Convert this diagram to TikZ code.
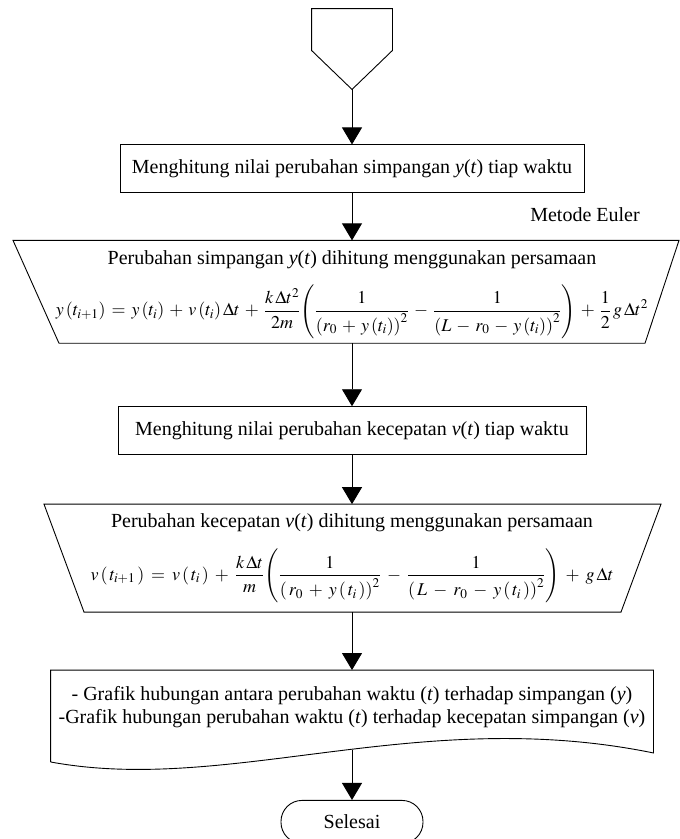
\documentclass[tikz,border=0pt]{standalone}
\usepackage{mathptmx}
\usepackage{fontspec}
\setmainfont{Liberation Serif}
\usetikzlibrary{positioning,arrows.meta,calc}

\begin{document}
\begin{tikzpicture}[
  x=1pt, y=-1pt,
  font=\fontsize{20}{23}\selectfont, >={Triangle[width=20pt,length=17pt]},
  line width=0.9pt,
  box/.style={draw, align=center, inner sep=0pt, minimum height=48pt},
  shp/.style={align=center, inner sep=0pt},
  flow/.style={->, line width=0.9pt},
]
\useasboundingbox (0,0) rectangle (680,839);
% ---- start (off-page connector) ----
\node[shp, minimum width=80pt, minimum height=80pt] (off) at (352,49) {};
% ---- displacement step ----
\node[box, minimum width=464pt, below=55pt of off] (ycalc)
  {Menghitung nilai perubahan simpangan \textit{y}(\textit{t}) tiap waktu};
\node[shp, minimum height=102pt, below=47pt of ycalc] (yeq)
  {\rule{0pt}{19pt}Perubahan simpangan \textit{y}(\textit{t}) dihitung menggunakan persamaan\\[15pt]
   {\fontsize{18}{21}\selectfont\medmuskip=5mu\thickmuskip=6mu
   $\displaystyle y\left(t_{i+1}\right) = y\left(t_i\right) + v\left(t_i\right)\Delta t
    + \frac{k\,\Delta t^2}{2m}\Bigg(\frac{1}{\left(r_0+y\left(t_i\right)\right)^2}
    - \frac{1}{\left(L-r_0-y\left(t_i\right)\right)^2}\Bigg) + \frac{1}{2}\,g\,\Delta t^2$}};
\node (euler) at (585,215) {Metode Euler};
% ---- velocity step ----
\node[box, minimum width=468pt, below=63pt of yeq] (vcalc)
  {Menghitung nilai perubahan kecepatan \textit{v}(\textit{t}) tiap waktu};
\node[shp, minimum height=107pt, below=49pt of vcalc] (veq)
  {Perubahan kecepatan \textit{v}(\textit{t}) dihitung menggunakan persamaan\\[16pt]
   {\fontsize{18}{21}\selectfont\medmuskip=6mu\thickmuskip=7mu
   $\displaystyle v\left(\,t_{i+1}\,\right) = v\left(\,t_i\,\right) + \frac{k\,\Delta t}{m}
    \Bigg(\frac{1}{\left(\,r_0+y\left(\,t_i\,\right)\right)^2}
    - \frac{1}{\left(\,L-r_0-y\left(\,t_i\,\right)\right)^2}\Bigg) + g\,\Delta t$}};
% ---- output + end ----
\node[shp, minimum width=602pt, minimum height=74pt, below=58pt of veq] (doc)
  {- Grafik hubungan antara perubahan waktu (\textit{t}) terhadap simpangan (\textit{y})\\
   -Grafik hubungan perubahan waktu (\textit{t}) terhadap kecepatan simpangan (\textit{v})};
\node[draw, minimum width=142pt, minimum height=43pt, rounded corners=21pt, below=55pt of doc] (stop) {Selesai};
% ---- outlines ----
\draw (off.north west) -- (off.north east) -- ([yshift=39pt]off.south east)
  -- (off.south) -- ([yshift=39pt]off.south west) -- cycle;
\draw ([xshift=-339pt]yeq.north) -- ([xshift=327pt]yeq.north)
  -- ([xshift=293pt]yeq.south) -- ([xshift=-293pt]yeq.south) -- cycle;
\draw ([xshift=-308pt]veq.north) -- ([xshift=309pt]veq.north)
  -- ([xshift=269pt]veq.south) -- ([xshift=-268pt]veq.south) -- cycle;
\draw ($(doc.south west)+(0,17)$) -- (doc.north west) -- (doc.north east)
  -- ($(doc.south east)+(0,8)$)
  .. controls ($(doc.south west)+(368,-40)$) and ($(doc.south west)+(178,50)$)
  .. ($(doc.south west)+(0,17)$) coordinate[pos=0.47] (docb);
% ---- arrows ----
\draw[flow] (off) -- (ycalc);
\draw[flow] (ycalc) -- (yeq);
\draw[flow] (yeq) -- (vcalc);
\draw[flow] (vcalc) -- (veq);
\draw[flow] (veq) -- (doc);
\draw[flow] (doc.south |- docb) -- (stop);
\end{tikzpicture}
\end{document}
